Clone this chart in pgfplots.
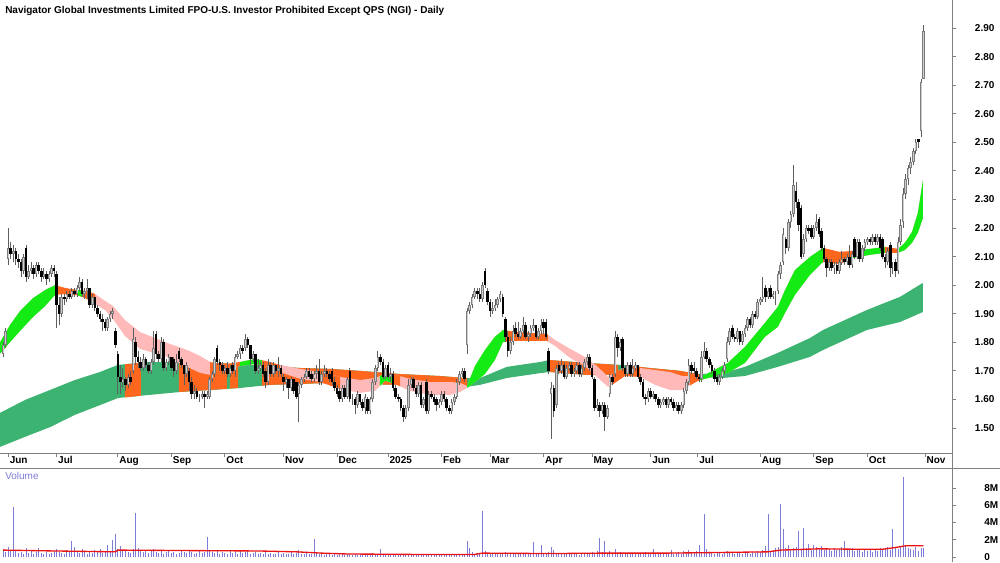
\documentclass[border=0pt]{standalone}
\usepackage{pgfplots}
\pgfplotsset{compat=1.18}
\usepackage{pgfplotstable}
\usepackage{fontspec}
\setmainfont{Liberation Sans}
\definecolor{ltg}{RGB}{60,179,113}
\definecolor{stg}{RGB}{20,235,20}
\definecolor{org}{RGB}{255,102,30}
\definecolor{pnk}{RGB}{255,185,185}
\definecolor{axg}{RGB}{128,128,128}
\definecolor{wick}{RGB}{95,95,95}
\definecolor{upc}{RGB}{125,125,125}
\definecolor{upin}{RGB}{205,205,205}
\definecolor{volc}{RGB}{125,125,215}
\definecolor{vma}{RGB}{235,20,20}
\begin{document}
\pgfplotstableread{
o h l c
1.76 1.80 1.75 1.79
1.79 1.85 1.78 1.84
2.09 2.20 2.07 2.13
2.13 2.15 2.09 2.11
2.11 2.14 2.08 2.12
2.12 2.13 2.07 2.09
2.09 2.11 2.06 2.08
2.08 2.09 2.03 2.05
2.05 2.11 2.04 2.10
2.13 2.14 2.01 2.03
2.03 2.07 2.02 2.05
2.05 2.08 2.04 2.06
2.06 2.07 2.02 2.04
2.04 2.08 2.03 2.07
2.07 2.08 2.04 2.05
2.05 2.06 2.01 2.03
2.03 2.06 2.02 2.04
2.04 2.05 2.00 2.02
2.02 2.05 2.01 2.04
2.04 2.07 2.03 2.06
2.06 2.07 2.03 2.05
2.04 2.05 1.85 1.93
1.93 1.96 1.86 1.90
1.90 1.97 1.89 1.96
1.96 1.97 1.93 1.95
1.95 1.98 1.94 1.97
1.97 1.98 1.95 1.96
1.96 1.99 1.95 1.98
1.98 1.99 1.96 1.97
1.97 2.00 1.96 1.99
1.99 2.03 1.98 2.01
2.01 2.02 1.96 1.97
1.97 1.99 1.95 1.98
1.98 2.02 1.95 1.99
1.99 1.99 1.92 1.93
1.93 1.97 1.92 1.96
1.96 1.96 1.91 1.92
1.92 1.93 1.89 1.90
1.90 1.91 1.87 1.88
1.88 1.90 1.84 1.87
1.87 1.88 1.84 1.85
1.85 1.89 1.84 1.88
1.88 1.91 1.87 1.90
1.90 1.92 1.88 1.91
1.84 1.85 1.78 1.79
1.76 1.77 1.62 1.68
1.68 1.72 1.62 1.66
1.66 1.71 1.64 1.67
1.67 1.68 1.63 1.65
1.65 1.69 1.64 1.68
1.68 1.70 1.65 1.66
1.70 1.85 1.69 1.81
1.80 1.82 1.72 1.75
1.75 1.77 1.71 1.73
1.73 1.75 1.70 1.71
1.71 1.76 1.70 1.74
1.74 1.75 1.71 1.72
1.72 1.73 1.69 1.70
1.70 1.74 1.69 1.73
1.73 1.84 1.72 1.78
1.83 1.84 1.74 1.76
1.76 1.77 1.73 1.74
1.74 1.82 1.73 1.80
1.80 1.81 1.70 1.71
1.71 1.74 1.70 1.73
1.73 1.76 1.72 1.75
1.75 1.75 1.70 1.71
1.74 1.75 1.68 1.70
1.70 1.76 1.69 1.73
1.77 1.78 1.73 1.74
1.74 1.75 1.71 1.72
1.72 1.72 1.65 1.69
1.69 1.73 1.68 1.72
1.70 1.71 1.63 1.66
1.66 1.68 1.60 1.62
1.62 1.65 1.60 1.63
1.63 1.64 1.60 1.61
1.61 1.62 1.59 1.61
1.61 1.63 1.60 1.62
1.62 1.63 1.57 1.61
1.61 1.63 1.60 1.62
1.61 1.68 1.60 1.67
1.67 1.70 1.66 1.69
1.69 1.75 1.68 1.74
1.78 1.79 1.72 1.73
1.73 1.74 1.70 1.72
1.72 1.73 1.69 1.70
1.70 1.72 1.69 1.71
1.71 1.73 1.68 1.69
1.69 1.72 1.68 1.71
1.72 1.73 1.69 1.70
1.70 1.76 1.68 1.75
1.75 1.77 1.74 1.76
1.76 1.79 1.74 1.78
1.78 1.79 1.76 1.77
1.78 1.83 1.77 1.81
1.81 1.82 1.78 1.79
1.79 1.79 1.72 1.74
1.74 1.77 1.73 1.76
1.76 1.76 1.69 1.70
1.70 1.74 1.69 1.71
1.71 1.73 1.70 1.72
1.72 1.73 1.68 1.69
1.70 1.71 1.64 1.66
1.66 1.74 1.65 1.72
1.72 1.73 1.68 1.69
1.69 1.73 1.68 1.72
1.72 1.72 1.69 1.70
1.70 1.75 1.68 1.71
1.71 1.72 1.68 1.69
1.68 1.69 1.63 1.66
1.66 1.68 1.64 1.67
1.67 1.67 1.60 1.64
1.64 1.68 1.63 1.67
1.67 1.67 1.62 1.63
1.66 1.66 1.60 1.61
1.62 1.66 1.52 1.65
1.65 1.68 1.64 1.67
1.67 1.69 1.66 1.68
1.68 1.71 1.67 1.70
1.70 1.71 1.67 1.68
1.69 1.70 1.66 1.67
1.67 1.70 1.66 1.69
1.69 1.72 1.67 1.70
1.70 1.74 1.65 1.66
1.66 1.70 1.65 1.69
1.69 1.72 1.68 1.70
1.70 1.71 1.68 1.69
1.69 1.70 1.66 1.67
1.70 1.71 1.65 1.66
1.66 1.68 1.63 1.64
1.64 1.65 1.61 1.62
1.63 1.64 1.59 1.60
1.60 1.65 1.59 1.64
1.64 1.65 1.60 1.61
1.61 1.68 1.60 1.67
1.70 1.71 1.59 1.60
1.60 1.62 1.58 1.60
1.60 1.61 1.55 1.58
1.58 1.63 1.57 1.62
1.62 1.62 1.58 1.59
1.59 1.60 1.56 1.57
1.57 1.62 1.55 1.61
1.60 1.61 1.55 1.56
1.56 1.61 1.55 1.60
1.60 1.67 1.59 1.66
1.66 1.72 1.65 1.71
1.71 1.77 1.70 1.75
1.75 1.76 1.72 1.73
1.73 1.74 1.67 1.68
1.68 1.72 1.67 1.71
1.72 1.73 1.67 1.68
1.68 1.71 1.66 1.69
1.69 1.70 1.63 1.64
1.64 1.65 1.60 1.61
1.61 1.62 1.59 1.60
1.60 1.61 1.56 1.57
1.57 1.58 1.52 1.54
1.54 1.58 1.53 1.57
1.57 1.67 1.56 1.65
1.65 1.68 1.64 1.67
1.67 1.68 1.63 1.64
1.64 1.65 1.61 1.62
1.62 1.66 1.61 1.65
1.65 1.66 1.57 1.58
1.58 1.61 1.57 1.60
1.66 1.67 1.55 1.56
1.56 1.63 1.55 1.62
1.62 1.63 1.60 1.61
1.61 1.62 1.58 1.59
1.60 1.61 1.56 1.58
1.58 1.60 1.57 1.59
1.59 1.63 1.58 1.62
1.62 1.63 1.59 1.60
1.60 1.61 1.56 1.57
1.57 1.58 1.55 1.56
1.56 1.60 1.55 1.59
1.59 1.62 1.58 1.61
1.61 1.67 1.60 1.66
1.66 1.70 1.65 1.69
1.69 1.71 1.68 1.70
1.70 1.71 1.66 1.67
1.79 1.92 1.76 1.91
1.91 1.94 1.90 1.93
1.93 1.97 1.92 1.96
1.96 1.99 1.95 1.98
1.98 1.99 1.95 1.97
1.97 1.99 1.94 1.95
1.95 2.01 1.94 2.00
2.05 2.06 1.99 2.00
1.98 1.99 1.93 1.94
1.94 1.95 1.89 1.91
1.91 1.94 1.90 1.92
1.92 1.95 1.91 1.93
1.93 1.96 1.92 1.95
1.95 1.98 1.94 1.97
1.96 1.97 1.89 1.90
1.88 1.89 1.80 1.82
1.82 1.84 1.75 1.77
1.77 1.82 1.76 1.80
1.80 1.86 1.79 1.84
1.85 1.87 1.82 1.83
1.83 1.87 1.81 1.82
1.82 1.85 1.81 1.84
1.84 1.89 1.83 1.86
1.86 1.87 1.81 1.82
1.82 1.84 1.80 1.83
1.83 1.86 1.82 1.85
1.85 1.88 1.84 1.86
1.86 1.86 1.81 1.82
1.82 1.85 1.81 1.84
1.84 1.88 1.83 1.86
1.87 1.88 1.83 1.85
1.87 1.88 1.81 1.82
1.77 1.78 1.69 1.70
1.62 1.66 1.46 1.64
1.64 1.65 1.54 1.56
1.58 1.72 1.57 1.71
1.72 1.73 1.69 1.70
1.70 1.74 1.69 1.72
1.72 1.73 1.67 1.68
1.68 1.72 1.67 1.71
1.71 1.73 1.70 1.72
1.72 1.73 1.68 1.69
1.69 1.71 1.68 1.70
1.70 1.73 1.69 1.72
1.72 1.73 1.68 1.69
1.69 1.72 1.68 1.71
1.71 1.74 1.70 1.73
1.73 1.76 1.72 1.75
1.75 1.76 1.70 1.71
1.71 1.72 1.67 1.68
1.67 1.68 1.56 1.57
1.57 1.60 1.56 1.58
1.58 1.59 1.54 1.56
1.56 1.59 1.55 1.58
1.58 1.59 1.49 1.54
1.54 1.58 1.53 1.57
1.62 1.69 1.61 1.68
1.68 1.69 1.65 1.66
1.69 1.84 1.68 1.82
1.82 1.83 1.75 1.78
1.78 1.81 1.77 1.80
1.81 1.82 1.70 1.71
1.71 1.72 1.68 1.69
1.69 1.73 1.68 1.72
1.72 1.73 1.68 1.69
1.69 1.74 1.68 1.71
1.71 1.73 1.70 1.72
1.72 1.72 1.67 1.68
1.68 1.69 1.65 1.66
1.66 1.67 1.60 1.61
1.61 1.62 1.58 1.60
1.60 1.64 1.59 1.63
1.63 1.64 1.60 1.61
1.61 1.63 1.60 1.62
1.62 1.62 1.59 1.60
1.60 1.61 1.57 1.58
1.58 1.60 1.57 1.59
1.59 1.61 1.58 1.60
1.60 1.61 1.57 1.58
1.58 1.61 1.57 1.60
1.60 1.61 1.58 1.59
1.59 1.60 1.56 1.57
1.57 1.59 1.56 1.58
1.58 1.59 1.55 1.56
1.56 1.59 1.55 1.58
1.58 1.64 1.57 1.63
1.63 1.67 1.62 1.66
1.66 1.74 1.65 1.72
1.72 1.73 1.69 1.70
1.71 1.73 1.69 1.70
1.70 1.71 1.67 1.68
1.68 1.69 1.66 1.67
1.67 1.77 1.66 1.75
1.75 1.80 1.74 1.77
1.77 1.78 1.73 1.74
1.74 1.75 1.71 1.72
1.72 1.73 1.69 1.70
1.70 1.71 1.66 1.67
1.68 1.69 1.65 1.66
1.66 1.69 1.65 1.68
1.68 1.71 1.67 1.70
1.70 1.73 1.69 1.72
1.74 1.82 1.73 1.80
1.80 1.85 1.79 1.84
1.85 1.86 1.81 1.82
1.82 1.83 1.80 1.81
1.81 1.85 1.80 1.84
1.84 1.84 1.79 1.80
1.80 1.84 1.79 1.83
1.83 1.86 1.82 1.85
1.85 1.89 1.84 1.88
1.88 1.89 1.85 1.86
1.86 1.91 1.85 1.90
1.90 1.91 1.88 1.89
1.89 1.95 1.88 1.94
1.94 1.96 1.93 1.95
1.95 2.03 1.94 1.96
1.99 2.00 1.94 1.96
1.96 1.99 1.95 1.98
1.99 2.00 1.95 1.96
1.96 1.98 1.95 1.97
1.97 1.98 1.93 1.97
1.98 2.05 1.97 2.04
2.04 2.08 2.02 2.07
2.08 2.20 2.07 2.18
2.16 2.17 2.11 2.13
2.13 2.23 2.12 2.22
2.22 2.26 2.20 2.25
2.25 2.42 2.24 2.35
2.33 2.36 2.27 2.29
2.29 2.30 2.19 2.21
2.27 2.28 2.09 2.10
2.11 2.18 2.10 2.16
2.16 2.21 2.15 2.20
2.20 2.21 2.18 2.19
2.20 2.21 2.16 2.17
2.17 2.21 2.16 2.20
2.20 2.25 2.19 2.22
2.23 2.24 2.17 2.18
2.19 2.20 2.12 2.13
2.13 2.14 2.08 2.09
2.09 2.10 2.03 2.06
2.06 2.09 2.05 2.08
2.08 2.09 2.05 2.06
2.06 2.08 2.04 2.07
2.07 2.08 2.04 2.05
2.05 2.09 2.04 2.08
2.08 2.12 2.07 2.09
2.09 2.10 2.07 2.08
2.08 2.11 2.07 2.10
2.10 2.14 2.06 2.07
2.07 2.12 2.06 2.11
2.16 2.17 2.09 2.10
2.10 2.16 2.09 2.15
2.15 2.16 2.08 2.09
2.09 2.14 2.08 2.13
2.13 2.16 2.12 2.15
2.15 2.17 2.14 2.16
2.16 2.17 2.14 2.15
2.15 2.18 2.14 2.17
2.17 2.18 2.14 2.15
2.15 2.18 2.14 2.17
2.17 2.18 2.12 2.13
2.16 2.17 2.09 2.10
2.10 2.11 2.06 2.08
2.08 2.13 2.07 2.12
2.14 2.15 2.03 2.06
2.06 2.08 2.04 2.06
2.08 2.09 2.03 2.05
2.05 2.17 2.04 2.15
2.15 2.23 2.14 2.21
2.22 2.34 2.20 2.32
2.32 2.39 2.30 2.37
2.37 2.42 2.35 2.41
2.41 2.45 2.39 2.43
2.43 2.48 2.42 2.47
2.47 2.51 2.46 2.50
2.51 2.51 2.48 2.50
2.54 2.72 2.52 2.71
2.72 2.91 2.72 2.89
}\candles
\pgfplotstableread[row sep=\\]{
v\\
0.9\\0.6\\1.2\\0.7\\5.8\\0.8\\0.5\\0.6\\0.4\\1.0\\
0.5\\0.7\\0.4\\0.6\\1.1\\0.5\\0.3\\0.6\\0.4\\0.5\\
0.7\\0.9\\0.6\\0.5\\0.4\\0.8\\0.6\\1.8\\1.2\\0.7\\
0.5\\0.9\\0.6\\0.4\\0.7\\0.5\\0.8\\0.6\\0.9\\0.5\\
0.7\\1.4\\0.6\\2.0\\2.7\\0.9\\1.3\\0.7\\0.8\\0.6\\
0.5\\0.9\\5.1\\1.1\\0.7\\0.6\\0.8\\0.5\\0.7\\0.9\\
0.6\\0.5\\0.8\\0.4\\0.6\\0.7\\0.5\\0.6\\0.4\\0.5\\
0.7\\0.6\\0.5\\0.8\\0.6\\0.4\\0.5\\0.7\\0.5\\0.6\\
2.3\\0.7\\0.6\\0.5\\0.8\\0.4\\0.6\\0.5\\0.4\\0.7\\
0.5\\0.6\\0.4\\0.8\\0.5\\0.6\\0.7\\0.4\\0.5\\0.6\\
0.4\\0.5\\0.3\\0.6\\0.4\\0.5\\0.3\\0.4\\0.6\\0.3\\
0.5\\0.4\\0.3\\0.6\\0.4\\0.5\\0.8\\0.4\\0.3\\0.5\\
0.4\\0.3\\2.1\\0.5\\0.3\\0.4\\0.2\\0.3\\0.4\\0.2\\
0.3\\0.2\\0.4\\0.3\\0.2\\0.3\\0.4\\0.2\\0.3\\0.2\\
0.3\\0.4\\0.2\\0.3\\0.2\\0.5\\0.4\\0.3\\0.9\\0.3\\
0.2\\0.3\\0.2\\0.4\\0.3\\0.2\\0.3\\0.2\\0.3\\0.4\\
0.2\\0.3\\0.2\\0.2\\0.3\\0.4\\0.2\\0.3\\0.2\\0.3\\
0.2\\0.3\\0.2\\0.2\\0.3\\0.2\\0.3\\0.4\\0.2\\0.3\\
0.3\\0.4\\1.8\\1.0\\0.6\\0.4\\0.5\\0.3\\5.3\\0.7\\
0.5\\0.4\\0.3\\0.5\\0.4\\0.3\\0.4\\0.6\\0.5\\0.4\\
0.3\\0.4\\0.3\\0.5\\0.4\\0.3\\0.4\\0.3\\1.7\\0.4\\
0.3\\1.4\\0.3\\0.4\\0.6\\1.2\\0.8\\0.5\\0.4\\0.3\\
0.4\\0.3\\0.5\\0.3\\0.4\\0.3\\0.2\\0.4\\0.3\\0.5\\
0.4\\0.6\\0.5\\0.7\\2.2\\0.6\\1.8\\0.5\\0.7\\0.4\\
0.9\\0.5\\0.6\\0.4\\0.3\\0.4\\0.5\\0.3\\0.4\\0.5\\
0.3\\0.4\\0.6\\0.3\\0.4\\0.9\\0.3\\0.4\\0.5\\0.3\\
0.4\\0.3\\0.8\\0.4\\0.5\\0.6\\0.3\\0.7\\0.5\\0.8\\
0.6\\0.5\\0.7\\1.4\\0.6\\5.0\\0.9\\0.6\\0.5\\0.4\\
0.5\\0.6\\0.4\\0.5\\0.7\\0.6\\0.5\\0.4\\0.6\\0.5\\
0.4\\0.6\\0.5\\0.4\\0.6\\0.5\\0.7\\0.6\\0.8\\1.3\\
5.0\\0.7\\0.8\\1.0\\1.2\\6.2\\3.2\\1.0\\1.4\\0.9\\
1.1\\1.2\\3.0\\0.9\\3.4\\1.0\\1.5\\0.8\\1.4\\1.2\\
0.9\\1.3\\0.8\\1.1\\0.9\\0.7\\1.0\\0.8\\0.9\\1.2\\
1.9\\0.8\\0.9\\1.0\\0.7\\0.8\\0.9\\0.6\\0.8\\0.7\\
0.9\\0.6\\0.8\\0.7\\1.0\\0.8\\0.9\\1.2\\0.8\\3.2\\
1.0\\0.9\\1.3\\9.3\\1.4\\1.0\\0.9\\0.8\\1.2\\0.7\\
1.1\\1.0\\
}\vol
\pgfplotstableread{
d v
0 0.8
20 0.7
44 0.6
45 0.8
70 0.75
100 0.7
115 0.6
125 0.45
135 0.35
160 0.3
185 0.3
188 0.45
215 0.4
235 0.45
260 0.45
275 0.5
300 0.6
305 0.8
320 0.95
335 0.9
345 0.9
350 1.1
354 1.3
361 1.3
}\volma
\begin{tikzpicture}
\path[use as bounding box] (0pt,0pt) rectangle (750pt,421.5pt);
\begin{axis}[
  at={(0pt,81.75pt)}, anchor=south west, scale only axis,
  width=714pt, height=339.75pt,
  xmin=-1.2, xmax=372.2, ymin=1.4125, ymax=2.998,
  axis x line*=bottom, axis y line*=right,
  axis line style={draw=axg, line width=0.7pt},
  tick align=outside, major tick length=3pt,
  tick style={draw=axg, line width=0.6pt},
  xtick={2,21,45,66,87,110,131,151,172,191,212,231,254,272.5,297,318,339,361.6},
  xticklabels={Jun,Jul,Aug,Sep,Oct,Nov,Dec,2025,Feb,Mar,Apr,May,Jun,Jul,Aug,Sep,Oct,Nov},
  x tick label style={font=\bfseries\fontsize{7.5}{8}\selectfont, anchor=north west, xshift=0pt, yshift=1.5pt, inner sep=1pt},
  ytick={1.5,1.6,1.7,1.8,1.9,2.0,2.1,2.2,2.3,2.4,2.5,2.6,2.7,2.8,2.9},
  yticklabels={1.50,1.60,1.70,1.80,1.90,2.00,2.10,2.20,2.30,2.40,2.50,2.60,2.70,2.80,2.90},
  y tick label style={font=\bfseries\fontsize{7.5}{8}\selectfont, anchor=west, xshift=14pt, inner sep=0pt},
]
% long-term band (base, then orange sections)
\addplot[fill=ltg, draw=none, forget plot] coordinates {(-1.2,1.553)(8.6,1.598)(18.4,1.633)(28.2,1.668)(38,1.696)(45.1,1.721)(57.6,1.731)(69.4,1.731)(81.2,1.728)(92.9,1.724)(104.7,1.717)(116.5,1.710)(128.2,1.707)(140,1.700)(155.7,1.689)(171.4,1.682)(181.2,1.675)(187.1,1.675)(197.6,1.714)(210.6,1.731)(214.5,1.738)(228.2,1.728)(242,1.721)(253.7,1.710)(265.5,1.700)(272.5,1.689)(282,1.692)(291,1.714)(303.9,1.763)(316.5,1.815)(321.6,1.843)(338.8,1.913)(351.8,1.959)(360.8,2.008)
(360.8,1.906)(351.8,1.871)(338.8,1.843)(321.6,1.773)(316.5,1.749)(303.9,1.714)(291,1.682)(282,1.675)(272.5,1.679)(265.5,1.682)(253.7,1.686)(242,1.686)(228.2,1.686)(214.5,1.696)(210.6,1.692)(197.6,1.675)(187.1,1.651)(181.2,1.643)(171.4,1.647)(155.7,1.651)(140,1.654)(128.2,1.658)(116.5,1.654)(104.7,1.651)(92.9,1.640)(81.2,1.633)(69.4,1.626)(57.6,1.616)(45.1,1.605)(38,1.580)(28.2,1.546)(18.4,1.503)(8.6,1.469)(-1.2,1.434)} -- cycle;
\addplot[fill=org, draw=none, forget plot] coordinates {(47.8,1.723)(54.1,1.728)(54.1,1.613)(47.8,1.607)} -- cycle;
\addplot[fill=org, draw=none, forget plot] coordinates {(69,1.731)(81.2,1.728)(87.8,1.726)(87.8,1.637)(81.2,1.633)(69,1.626)} -- cycle;
\addplot[fill=org, draw=none, forget plot] coordinates {(89,1.725)(92.2,1.724)(92.2,1.640)(89,1.638)} -- cycle;
\addplot[fill=org, draw=none, forget plot] coordinates {(101.6,1.719)(104.7,1.717)(116.5,1.710)(128.2,1.707)(140,1.700)(155.7,1.689)(171.4,1.682)(181.2,1.675)(182,1.675)(182,1.644)(181.2,1.643)(171.4,1.647)(155.7,1.651)(140,1.654)(128.2,1.658)(116.5,1.654)(104.7,1.651)(101.6,1.648)} -- cycle;
\addplot[fill=org, draw=none, forget plot] coordinates {(214.5,1.738)(228.2,1.728)(241.2,1.721)(241.2,1.686)(228.2,1.686)(214.5,1.696)} -- cycle;
\addplot[fill=org, draw=none, forget plot] coordinates {(246.7,1.717)(253.7,1.710)(265.5,1.700)(272.5,1.689)(273.3,1.689)(273.3,1.679)(272.5,1.679)(265.5,1.682)(253.7,1.686)(246.7,1.686)} -- cycle;
% short-term band (pink base, then green and orange sections)
\addplot[fill=pnk, draw=none, forget plot] coordinates {(-1.2,1.80)(2.7,1.86)(6.7,1.91)(11.8,1.955)(16.5,1.983)(20.4,2.00)(24.3,1.99)(29,1.983)(32.2,1.98)(36.1,1.969)(40,1.945)(43.1,1.927)(47.8,1.878)(53.7,1.836)(64.3,1.798)(72.2,1.773)(77.3,1.752)(81.2,1.731)(85.1,1.721)(92.9,1.731)(98.8,1.742)(102.7,1.735)(108.6,1.721)(116.5,1.707)(124.3,1.696)(132.2,1.679)(140,1.668)(145.9,1.675)(149.8,1.689)(153.7,1.686)(159.6,1.672)(167.5,1.661)(175.3,1.661)(179.2,1.658)(182,1.647)(185.1,1.717)(189,1.773)(192.9,1.819)(196.1,1.843)(200.8,1.836)(206.7,1.833)(213.3,1.829)(216.5,1.808)(222.4,1.777)(228.2,1.749)(232.9,1.717)(237.3,1.679)(240,1.696)(243.9,1.710)(249.8,1.710)(255.7,1.703)(261.6,1.696)(266.3,1.682)(272.5,1.682)(275.3,1.686)(284.3,1.728)(291,1.784)(298.8,1.868)(303.9,1.924)(306.7,1.983)(310.6,2.053)(316.5,2.099)(321.6,2.130)(328.2,2.116)(333.3,2.120)(340,2.127)(345.9,2.134)(351,2.127)(353.7,2.148)(356.5,2.186)(358.8,2.253)(360.8,2.368)
(360.8,2.235)(358.8,2.183)(356.5,2.148)(353.7,2.123)(351,2.113)(345.9,2.113)(340,2.106)(333.3,2.095)(328.2,2.074)(321.6,2.081)(316.5,2.036)(310.6,1.966)(306.7,1.903)(303.9,1.854)(298.8,1.819)(291,1.728)(284.3,1.693)(275.3,1.672)(272.5,1.665)(266.3,1.633)(261.6,1.633)(255.7,1.651)(249.8,1.679)(243.9,1.682)(240,1.658)(237.3,1.644)(232.9,1.679)(228.2,1.717)(222.4,1.745)(216.5,1.787)(213.3,1.805)(206.7,1.805)(200.8,1.805)(196.1,1.801)(192.9,1.738)(189,1.689)(185.1,1.661)(182,1.640)(179.2,1.626)(175.3,1.616)(167.5,1.616)(159.6,1.630)(153.7,1.654)(149.8,1.665)(145.9,1.630)(140,1.623)(132.2,1.637)(124.3,1.661)(116.5,1.672)(108.6,1.696)(102.7,1.717)(98.8,1.724)(92.9,1.717)(85.1,1.703)(81.2,1.686)(77.3,1.693)(72.2,1.714)(64.3,1.749)(53.7,1.777)(47.8,1.822)(43.1,1.882)(40,1.913)(36.1,1.934)(32.2,1.955)(29,1.965)(24.3,1.969)(20.4,1.966)(16.5,1.927)(11.8,1.889)(6.7,1.84)(2.7,1.80)(-1.2,1.76)} -- cycle;
\addplot[fill=stg, draw=none, forget plot] coordinates {(-1.2,1.80)(2.7,1.86)(6.7,1.91)(11.8,1.955)(16.5,1.983)(20.4,2.00)(21.2,1.998)(21.2,1.967)(20.4,1.966)(16.5,1.927)(11.8,1.889)(6.7,1.84)(2.7,1.80)(-1.2,1.76)} -- cycle;
\addplot[fill=org, draw=none, forget plot] coordinates {(21.2,1.998)(24.3,1.99)(29,1.983)(32.2,1.98)(36.1,1.969)(36.1,1.934)(32.2,1.955)(29,1.965)(24.3,1.969)(21.2,1.967)} -- cycle;
\addplot[fill=stg, draw=none, forget plot] coordinates {(29,1.983)(31.4,1.981)(31.4,1.958)(29,1.965)} -- cycle;
\addplot[fill=org, draw=none, forget plot] coordinates {(81.2,1.731)(85.1,1.721)(92.9,1.731)(92.9,1.717)(85.1,1.703)(81.2,1.686)} -- cycle;
\addplot[fill=stg, draw=none, forget plot] coordinates {(92.9,1.731)(98.8,1.742)(101.6,1.737)(101.6,1.719)(98.8,1.724)(92.9,1.717)} -- cycle;
\addplot[fill=org, draw=none, forget plot] coordinates {(101.6,1.737)(102.7,1.735)(108.6,1.721)(108.6,1.696)(102.7,1.717)(101.6,1.719)} -- cycle;
\addplot[fill=org, draw=none, forget plot] coordinates {(124.3,1.696)(132.2,1.679)(132.2,1.637)(124.3,1.661)} -- cycle;
\addplot[fill=stg, draw=none, forget plot] coordinates {(147.8,1.682)(149.8,1.689)(152.5,1.687)(152.5,1.658)(149.8,1.665)(147.8,1.647)} -- cycle;
\addplot[fill=org, draw=none, forget plot] coordinates {(152.5,1.687)(153.7,1.686)(155.7,1.681)(155.7,1.646)(153.7,1.654)(152.5,1.658)} -- cycle;
\addplot[fill=stg, draw=none, forget plot] coordinates {(182,1.647)(185.1,1.717)(189,1.773)(192.9,1.819)(196.1,1.843)(196.9,1.842)(196.9,1.802)(196.1,1.801)(192.9,1.738)(189,1.689)(185.1,1.661)(182,1.640)} -- cycle;
\addplot[fill=org, draw=none, forget plot] coordinates {(196.9,1.842)(200.8,1.836)(206.7,1.833)(213.3,1.829)(213.7,1.826)(213.7,1.803)(213.3,1.805)(206.7,1.805)(200.8,1.805)(196.9,1.802)} -- cycle;
\addplot[fill=org, draw=none, forget plot] coordinates {(238.8,1.688)(240,1.696)(243.9,1.710)(249.8,1.710)(249.8,1.679)(243.9,1.682)(240,1.658)(238.8,1.652)} -- cycle;
\addplot[fill=org, draw=none, forget plot] coordinates {(269.4,1.689)(272.5,1.682)(273.3,1.683)(273.3,1.667)(272.5,1.665)(269.4,1.649)} -- cycle;
\addplot[fill=stg, draw=none, forget plot] coordinates {(273.3,1.683)(275.3,1.686)(284.3,1.728)(291,1.784)(298.8,1.868)(303.9,1.924)(306.7,1.983)(310.6,2.053)(316.5,2.099)(321.6,2.130)(321.6,2.081)(316.5,2.036)(310.6,1.966)(306.7,1.903)(303.9,1.854)(298.8,1.819)(291,1.728)(284.3,1.693)(275.3,1.672)(273.3,1.667)} -- cycle;
\addplot[fill=org, draw=none, forget plot] coordinates {(321.6,2.130)(328.2,2.116)(333.3,2.120)(333.3,2.095)(328.2,2.074)(321.6,2.081)} -- cycle;
\addplot[fill=stg, draw=none, forget plot] coordinates {(333.3,2.120)(340,2.127)(345.9,2.134)(345.9,2.113)(340,2.106)(333.3,2.095)} -- cycle;
\addplot[fill=org, draw=none, forget plot] coordinates {(345.9,2.134)(351,2.127)(351,2.113)(345.9,2.113)} -- cycle;
\addplot[fill=stg, draw=none, forget plot] coordinates {(351,2.127)(353.7,2.148)(356.5,2.186)(358.8,2.253)(360.8,2.368)(360.8,2.235)(358.8,2.183)(356.5,2.148)(353.7,2.123)(351,2.113)} -- cycle;
% wicks
\addplot[draw=none, mark=none, forget plot,
  error bars/.cd, y dir=both, y explicit, error mark=none,
  error bar style={solid, draw=wick, line width=0.6pt}]
  table[x expr=\coordindex, y expr={(\thisrow{h}+\thisrow{l})/2}, y error expr={(\thisrow{h}-\thisrow{l})/2}] {\candles};
% up bodies (zero length for down candles): grey outline, light interior
\addplot[draw=none, mark=none, forget plot,
  error bars/.cd, y dir=both, y explicit, error mark=none,
  error bar style={solid, draw=upc, line width=1.9pt}]
  table[x expr=\coordindex, y expr={(\thisrow{o}+\thisrow{c})/2}, y error expr={max(\thisrow{c}-\thisrow{o},0)/2}] {\candles};
\addplot[draw=none, mark=none, forget plot,
  error bars/.cd, y dir=both, y explicit, error mark=none,
  error bar style={solid, draw=upin, line width=0.6pt}]
  table[x expr=\coordindex, y expr={(\thisrow{o}+\thisrow{c})/2}, y error expr={max(\thisrow{c}-\thisrow{o}-0.007,0)/2}] {\candles};
% down bodies (zero length for up candles)
\addplot[draw=none, mark=none, forget plot,
  error bars/.cd, y dir=both, y explicit, error mark=none,
  error bar style={solid, draw=black, line width=1.9pt}]
  table[x expr=\coordindex, y expr={(\thisrow{o}+\thisrow{c})/2}, y error expr={max(\thisrow{o}-\thisrow{c},0)/2}] {\candles};
\node[anchor=north west, font=\bfseries\fontsize{7.5}{9}\selectfont, inner sep=0pt, xshift=3.75pt, yshift=-4.5pt] at (rel axis cs:0,1) {Navigator Global Investments Limited FPO-U.S. Investor Prohibited Except QPS (NGI) - Daily};
\end{axis}
\begin{axis}[
  at={(0pt,0pt)}, anchor=south west, scale only axis,
  width=714pt, height=70.5pt,
  xmin=-1.2, xmax=372.2, ymin=-0.58, ymax=10.32,
  hide x axis, axis y line*=right,
  axis line style={draw=axg, line width=0.7pt},
  tick align=outside, major tick length=3pt,
  tick style={draw=axg, line width=0.6pt},
  ytick={0,2,4,6,8}, yticklabels={0,2M,4M,6M,8M},
  y tick label style={font=\bfseries\fontsize{7.5}{8}\selectfont, anchor=west, xshift=21pt, inner sep=0pt},
]
\addplot[ycomb, draw=volc, line width=0.6pt, mark=none] table[x expr=\coordindex, y=v] {\vol};
\addplot[draw=vma, line width=1pt, mark=none] table[x=d, y=v] {\volma};
\node[anchor=north west, text=volc, font=\fontsize{7.5}{9}\selectfont, inner sep=0pt, xshift=3.75pt, yshift=-3pt] at (rel axis cs:0,1) {Volume};
\end{axis}
\draw[axg, line width=0.7pt] (0pt,70.5pt) -- (750pt,70.5pt);
\draw[axg, line width=0.7pt] (714pt,0pt) -- (714pt,421.5pt);
\end{tikzpicture}
\end{document}
